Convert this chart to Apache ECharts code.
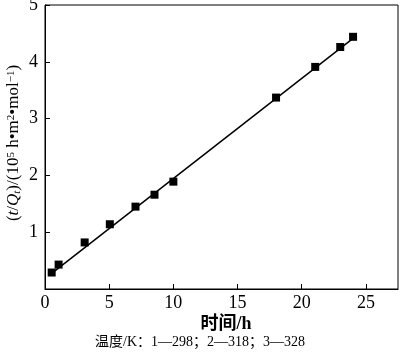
<!DOCTYPE html>
<html><head><meta charset="utf-8">
<script src="https://cdn.jsdelivr.net/npm/echarts@6/dist/echarts.min.js"></script>
<style>html,body{margin:0;padding:0;background:#fff}#c{width:400px;height:357px}</style>
</head><body><div id="c"></div>
<script>
const timeH = [0.52, 1.06, 3.09, 5.05, 7.05, 8.53, 10.0, 18.0, 21.05, 23.0, 24.0];
const tOverQ = [0.29, 0.43, 0.82, 1.14, 1.45, 1.66, 1.89, 3.37, 3.91, 4.26, 4.44];
const fitX = [0.5, 24.1];
const fitY = [0.27, 4.43];
const xTitle = '时间/h';
const yTitle = '({i|t}/{i|Q}{sub|t})/(10{sup|5} h•m{sup|2}•mol{sup|−1})';
const caption = '温度/K：1—298；2—318；3—328';

const serif = '"Liberation Serif", "Times New Roman", "Noto Sans CJK SC", serif';
const chart = echarts.init(document.getElementById('c'));
chart.setOption({
  animation: false,
  backgroundColor: '#fff',
  grid: {left: 45, top: 5, right: 2, bottom: 68, show: true, borderColor: '#000', borderWidth: 1,
         containLabel: false, outerBoundsMode: 'none'},
  xAxis: {
    type: 'value', min: 0, max: 27.5, interval: 5,
    axisLine: {lineStyle: {color: '#000', width: 1}},
    axisTick: {inside: true, length: 5, lineStyle: {color: '#000'}},
    axisLabel: {color: '#000', fontFamily: serif, fontSize: 18, margin: 5, showMaxLabel: false},
    splitLine: {show: false}
  },
  yAxis: {
    type: 'value', min: 0, max: 5, interval: 1,
    axisLine: {lineStyle: {color: '#000', width: 1}},
    axisTick: {inside: true, length: 5, lineStyle: {color: '#000'}},
    axisLabel: {color: '#000', fontFamily: serif, fontSize: 18, margin: 7, showMinLabel: false},
    splitLine: {show: false}
  },
  graphic: [
    {
      type: 'text', x: 226, y: 324,
      style: {text: xTitle, font: 'bold 18px ' + serif, fill: '#000', align: 'center', verticalAlign: 'middle'}
    },
    {
      type: 'text', x: 14, y: 143, rotation: Math.PI / 2,
      style: {
        text: yTitle, font: '17px ' + serif, fill: '#000', align: 'center', verticalAlign: 'middle',
        rich: {
          i: {font: 'italic 17px ' + serif, fill: '#000'},
          sub: {font: 'italic 11px ' + serif, fill: '#000', verticalAlign: 'bottom', lineHeight: 17},
          sup: {font: '11px ' + serif, fill: '#000', verticalAlign: 'top', lineHeight: 17}
        }
      }
    },
    {
      type: 'text', left: 'center', top: 335,
      style: {text: caption, font: '14px ' + serif, fill: '#000'}
    }
  ],
  series: [
    {
      type: 'line', data: fitX.map((x, i) => [x, fitY[i]]),
      showSymbol: false, lineStyle: {color: '#000', width: 1.5}, z: 2
    },
    {
      type: 'scatter', data: timeH.map((x, i) => [x, tOverQ[i]]),
      symbol: 'rect', symbolSize: 8, itemStyle: {color: '#000', opacity: 1}, z: 3
    }
  ]
});
</script></body></html>
